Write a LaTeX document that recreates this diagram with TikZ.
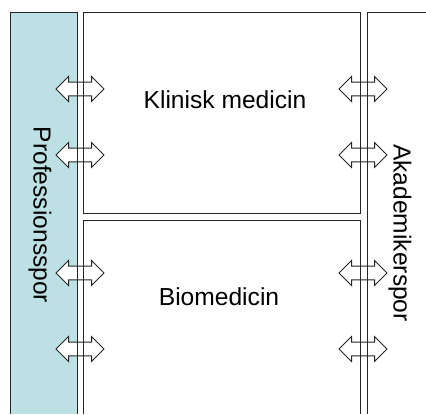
\documentclass[tikz,border=0pt]{standalone}
\usepackage{fontspec}
\setmainfont{Liberation Sans}
\usetikzlibrary{shapes.arrows}
\definecolor{sporblue}{RGB}{188,224,228}
\tikzset{
	frame/.style={draw=black!85, line width=0.5pt},
	dblarrow/.style={double arrow, draw=black!85, fill=white, line width=0.5pt,
		inner xsep=0pt, inner ysep=3.2pt, minimum height=24pt,
		double arrow head extend=2.8pt, double arrow head indent=0pt},
	label/.style={font=\fontsize{12.3}{15}\selectfont}
}

\begin{document}
\begin{tikzpicture}[x=0.5pt,y=-0.5pt]
	\useasboundingbox (0,0) rectangle (426,414);
	% define coordinates
	\coordinate (PA) at (10,414);
	\coordinate (PB) at (10,12);
	\coordinate (PC) at (77,12);
	\coordinate (PD) at (77,414);
	\coordinate (KA) at (83,12);
	\coordinate (KB) at (360,213);
	\coordinate (BA) at (83,414);
	\coordinate (BB) at (83,220);
	\coordinate (BC) at (360,220);
	\coordinate (BD) at (360,414);
	\coordinate (AA) at (426,12);
	\coordinate (AB) at (367,12);
	\coordinate (AC) at (367,414);
	% professionsspor
	\fill[sporblue] (PA) rectangle (PC);
	% arrows
	\foreach \y [count=\i] in {89,155,273,349}{
		\node[dblarrow] (left\i) at (80,\y) {};
		\node[dblarrow] (right\i) at (363,\y) {};
	}
	% columns
	\draw[frame] (PA) -- (PB) -- (PC) -- (PD);
	\draw[frame] (KA) rectangle (KB);
	\draw[frame] (BA) -- (BB) -- (BC) -- (BD);
	\draw[frame] (AA) -- (AB) -- (AC);
	% labels
	\node[label] (klinisk) at (225,100) {Klinisk medicin};
	\node[label] (bio) at (219,297) {Biomedicin};
	\node[label, rotate=-90] (prof) at (40,215) {Professionsspor};
	\node[label, rotate=-90] (akad) at (400,233) {Akademikerspor};
\end{tikzpicture}
\end{document}
